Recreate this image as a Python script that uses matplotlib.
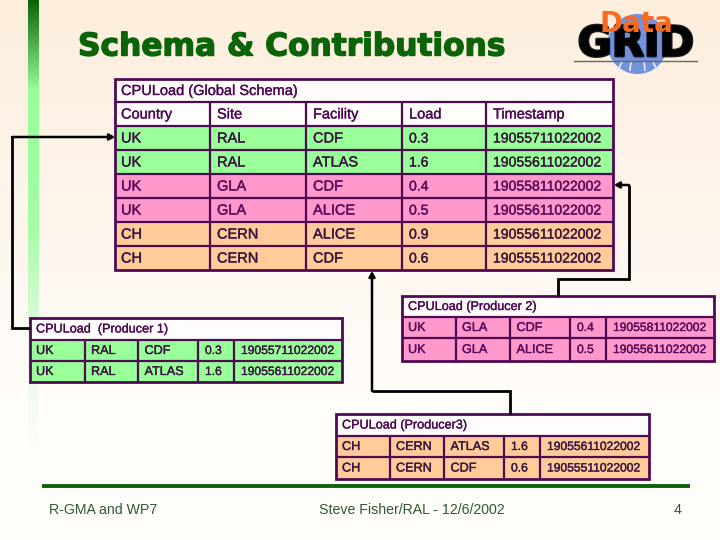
import numpy as np
import matplotlib
matplotlib.use("Agg")
import matplotlib.pyplot as plt
import matplotlib.patheffects as pe
from matplotlib.patches import Rectangle, Circle
from matplotlib.colors import LinearSegmentedColormap

plt.rcParams['font.family'] = ['Liberation Sans', 'DejaVu Sans']

TITLE = "Schema & Contributions"
FOOT_L = "R-GMA and WP7"
FOOT_C = "Steve Fisher/RAL - 12/6/2002"
PAGE = "4"

GLOBAL_TITLE = "CPULoad (Global Schema)"
P1_TITLE = "CPULoad  (Producer 1)"
P2_TITLE = "CPULoad (Producer 2)"
P3_TITLE = "CPULoad (Producer3)"

HEADER = ["Country", "Site", "Facility", "Load", "Timestamp"]
ROWS_P1 = [["UK", "RAL", "CDF", "0.3", "19055711022002"],
           ["UK", "RAL", "ATLAS", "1.6", "19055611022002"]]
ROWS_P2 = [["UK", "GLA", "CDF", "0.4", "19055811022002"],
           ["UK", "GLA", "ALICE", "0.5", "19055611022002"]]
ROWS_P3 = [["CH", "CERN", "ATLAS", "1.6", "19055611022002"],
           ["CH", "CERN", "CDF", "0.6", "19055511022002"]]
ROWS_G = [["UK", "RAL", "CDF", "0.3", "19055711022002"],
          ["UK", "RAL", "ATLAS", "1.6", "19055611022002"],
          ["UK", "GLA", "CDF", "0.4", "19055811022002"],
          ["UK", "GLA", "ALICE", "0.5", "19055611022002"],
          ["CH", "CERN", "ALICE", "0.9", "19055611022002"],
          ["CH", "CERN", "CDF", "0.6", "19055511022002"]]

GREEN, PINK, ORANGE = "#99FF99", "#FF99CC", "#FFCC99"
BORDER = "#4E0A55"
DARK = "#0B6408"

fig = plt.figure(figsize=(7.2, 5.4), dpi=100)
ax = fig.add_axes([0, 0, 1, 1])
ax.set_xlim(0, 720); ax.set_ylim(540, 0); ax.axis("off")

# background gradient
bg = LinearSegmentedColormap.from_list("bg", ["#FDEEDC", "#FEF3E7", "#FFF8F1", "#FFFDFA", "#FFFDFA"])
ax.imshow(np.linspace(0, 1, 256)[:, None], extent=(0, 720, 540, 0), cmap=bg, aspect="auto", zorder=0)

# side gradient bar
bar = LinearSegmentedColormap.from_list("bar", [(0, "#0B6408"), (0.20, "#99FF99"), (0.5, "#A5FBA5"),
                                                 (0.75, "#E2FBE2"), (1, "#FFFDFA")])
ax.imshow(np.linspace(0, 1, 256)[:, None], extent=(28, 39, 450, 0), cmap=bar, aspect="auto", zorder=1)
ax.set_xlim(0, 720); ax.set_ylim(540, 0)

# title
ax.text(78, 47, TITLE, color=DARK, fontsize=22.5, fontweight="bold", family="DejaVu Sans",
        va="center", ha="left", zorder=5,
        path_effects=[pe.withStroke(linewidth=1.0, foreground=DARK)])

# logo
ax.add_patch(Circle((637.5, 44), 30, fc="#7391DC", ec="none", zorder=2))
for x0, x1 in [(622, 618), (631, 630), (644, 645), (653, 657)]:
    ax.plot([x0, x1], [62, 70], color="#E8EEFA", lw=1.2, zorder=3)
ax.text(636, 44, "GRID", color="black", fontsize=30, fontweight="bold", family="DejaVu Sans",
        va="center", ha="center", zorder=3, alpha=0.88,
        path_effects=[pe.withStroke(linewidth=2.0, foreground="black")])
ax.plot([574, 697], [61, 61], color="#666666", lw=1, zorder=3)
ax.text(636, 24, "Data", color="#F86A20", fontsize=20, fontweight="bold", family="DejaVu Sans",
        va="center", ha="center", zorder=4)

LW = 2.0
STROKE = 0.25


def is_num(s):
    return s[0].isdigit()


def put(x, y, s, fs, fs_num, color):
    ax.text(x, y, s, fontsize=fs_num if is_num(s) else fs, color=color, va="center", ha="left", zorder=4,
            path_effects=[pe.withStroke(linewidth=STROKE, foreground=color)])


def table(xs, ys, title, rows, colors, fs, fs_num, pads, header=None, tcolor=BORDER):
    """Draw a framed table: xs column edges, ys row edges."""
    x0, x1 = xs[0], xs[-1]
    n_head = 1 + (1 if header else 0)
    ax.add_patch(Rectangle((x0, ys[0]), x1 - x0, ys[-1] - ys[0], fc="#FFFDFB", ec="none", zorder=2))
    for i, row in enumerate(rows):
        r = i + n_head
        ax.add_patch(Rectangle((x0, ys[r]), x1 - x0, ys[r + 1] - ys[r], fc=colors[i], ec="none", zorder=2))
        col = "#5A0A5A" if colors[i] == PINK else "#3A1440"
        for j, val in enumerate(row):
            put(xs[j] + pads[j], (ys[r] + ys[r + 1]) / 2 + 0.5, val, fs, fs_num, col)
    put(x0 + pads[0], (ys[0] + ys[1]) / 2 + 0.5, title, fs, fs_num, tcolor)
    if header:
        for j, val in enumerate(header):
            put(xs[j] + pads[j], (ys[1] + ys[2]) / 2 + 0.5, val, fs, fs_num, tcolor)
    for y in ys[1:-1]:
        ax.plot([x0, x1], [y, y], color=BORDER, lw=LW * 0.8, zorder=3, solid_capstyle="butt")
    for x in xs[1:-1]:
        ax.plot([x, x], [ys[1], ys[-1]], color=BORDER, lw=LW * 0.8, zorder=3, solid_capstyle="butt")
    ax.add_patch(Rectangle((x0, ys[0]), x1 - x0, ys[-1] - ys[0], fc="none", ec=BORDER, lw=LW, zorder=3))


PG = [6, 7, 7, 7, 7]
PP = [6, 6, 6.5, 7, 7]
table([115, 210, 306, 402, 486, 613], [79, 102, 126, 150, 174, 198, 222, 246, 270],
      GLOBAL_TITLE, ROWS_G, [GREEN, GREEN, PINK, PINK, ORANGE, ORANGE], 10.5, 10.1, PG, header=HEADER)
table([30, 85, 138, 198, 234, 342], [318, 340, 361, 382], P1_TITLE, ROWS_P1, [GREEN, GREEN], 9.1, 8.7, PP)
table([402, 456, 510, 570, 606, 714], [296, 317, 338, 361], P2_TITLE, ROWS_P2, [PINK, PINK], 9.1, 8.7, PP)
table([336, 390, 444, 504, 540, 649], [414, 436, 457, 479], P3_TITLE, ROWS_P3, [ORANGE, ORANGE], 9.1, 8.7, PP)


# connectors
def connector(xs, ys):
    ax.plot(xs[:-1], ys[:-1], color="black", lw=2.0, zorder=6, solid_joinstyle="miter", solid_capstyle="butt")
    ax.annotate("", xy=(xs[-1], ys[-1]), xytext=(xs[-2], ys[-2]), zorder=6,
                arrowprops=dict(arrowstyle="-|>,head_width=0.2,head_length=0.35", color="black", lw=1.8,
                                shrinkA=0, shrinkB=0, mutation_scale=9))


connector([30, 12, 12, 115], [328, 328, 137, 137])
connector([558, 558, 629, 629, 614], [296, 279, 279, 185, 185])
connector([510, 510, 372, 372], [414, 391, 391, 271])

# footer
ax.plot([42, 690], [486, 486], color=DARK, lw=2.8, zorder=3, solid_capstyle="butt")
FOOT = "#2C5A38"
ax.text(49, 510, FOOT_L, color=FOOT, fontsize=10.15, va="center", ha="left")
ax.text(319, 510, FOOT_C, color=FOOT, fontsize=10.15, va="center", ha="left")
ax.text(678, 510, PAGE, color=FOOT, fontsize=10.15, va="center", ha="center")

fig.savefig("out.png", dpi=100)
